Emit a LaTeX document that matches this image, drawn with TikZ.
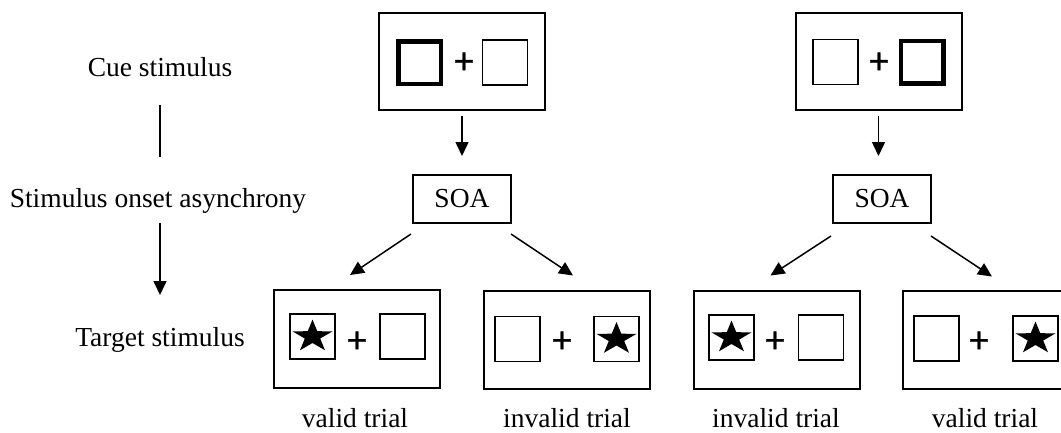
\documentclass[tikz,border=0pt]{standalone}
\usepackage{fontspec}
\setmainfont{Liberation Serif}
\newfontfamily\plusfont[FakeBold=0.8]{Liberation Sans}
\usetikzlibrary{arrows.meta}

\tikzset{
  every node/.style={outer sep=0pt},
  frame/.style={draw, line width=2pt, inner sep=0pt, minimum width=166, minimum height=97},
  soabox/.style={draw, line width=2pt, inner sep=0pt, minimum width=98, minimum height=48,
    font=\fontsize{27.5}{32}\selectfont},
  plainsq/.style={draw, line width=1.8pt, inner sep=0pt, minimum size=45},
  cuesq/.style={draw, line width=4.5pt, inner sep=0pt, minimum size=42.5},
  plusmark/.style={inner sep=0pt, font=\plusfont\fontsize{36}{36}\selectfont},
  sidelabel/.style={anchor=base, inner sep=0pt, text height=19pt, text depth=0pt,
    font=\fontsize{27.5}{32}\selectfont},
  triallabel/.style={anchor=base, inner sep=0pt, font=\fontsize{27.5}{32}\selectfont},
  flow/.style={line width=1.5pt, -{Triangle[length=14pt,width=13pt]}},
  pics/starmark/.style={code={
    \fill[xscale=1.25, yscale=-1] (90:17) -- (126:6.5) -- (162:17) -- (198:6.5) -- (234:17)
      -- (270:6.5) -- (306:17) -- (342:6.5) -- (18:17) -- (54:6.5) -- cycle;
  }}
}

\begin{document}
\begin{tikzpicture}[x=1pt, y=-1pt]
\useasboundingbox (0,0) rectangle (1061,432);

% stage names on the left
\node[sidelabel] (lblCue) at (160,76) {Cue stimulus};
\node[sidelabel] (lblSoa) at (158,207) {Stimulus onset asynchrony};
\node[sidelabel] (lblTgt) at (160,346) {Target stimulus};
\draw[line width=1.5pt, shorten <=29pt, shorten >=31pt] (lblCue.south) -- (lblCue.south |- lblSoa.north);
\draw[flow, shorten <=16pt, shorten >=32pt] (lblCue.south |- lblSoa.south) -- (lblCue.south |- lblTgt.north);

% cue displays
\node[frame] (cueL) at (462,61.5) {};
\node[cuesq] (cueLa) at (419.5,62.5) {};
\node[plusmark] (cueLp) at (464,63) {+};
\node[plainsq] (cueLb) at (505,62.5) {};

\node[frame] (cueR) at (878.5,61.5) {};
\node[plainsq] (cueRa) at (835.5,62) {};
\node[plusmark] (cueRp) at (879,63) {+};
\node[cuesq] (cueRb) at (922,62) {};

% SOA boxes
\node[soabox] (soaL) at (462,199) {SOA};
\node[soabox] (soaR) at (882,199) {SOA};
\draw[flow, shorten <=6pt, shorten >=19pt] (cueL.south) -- (cueL.south |- soaL.north);
\draw[flow, shorten <=6pt, shorten >=19pt] (cueR.south) -- (cueR.south |- soaR.north);

% target displays
\node[frame, minimum height=98] (tA) at (357,339) {};
\node[plainsq] (tAa) at (312.5,336.5) {};
\pic at (tAa) {starmark};
\node[plusmark] (tAp) at (357,342) {+};
\node[plainsq] (tAb) at (402.5,336.5) {};

\node[frame, minimum height=98] (tB) at (567,339.5) {};
\node[plainsq] (tBa) at (517.5,339) {};
\node[plusmark] (tBp) at (562,342) {+};
\node[plainsq] (tBb) at (616.5,339) {};
\pic at (tBb) {starmark};

\node[frame, minimum height=98] (tC) at (776.5,339.5) {};
\node[plainsq] (tCa) at (731.5,337.5) {};
\pic at (tCa) {starmark};
\node[plusmark] (tCp) at (775,342) {+};
\node[plainsq] (tCb) at (821,337.5) {};

\node[frame, minimum height=98] (tD) at (986,339.5) {};
\node[plainsq] (tDa) at (936.5,338.5) {};
\node[plusmark] (tDp) at (979,342) {+};
\node[plainsq] (tDb) at (1035.5,338.5) {};
\pic at (tDb) {starmark};

% branches from SOA to the targets
\draw[flow] ([shift={(-2,11)}]soaL.south west) -- ([shift={(-7,-15)}]tA.north);
\draw[flow] ([shift={(0,11)}]soaL.south east) -- ([shift={(6,-15)}]tB.north);
\draw[flow] ([shift={(-2,13)}]soaR.south west) -- ([shift={(-6,-15)}]tC.north);
\draw[flow] ([shift={(0,13)}]soaR.south east) -- ([shift={(6,-14)}]tD.north);

% trial labels
\node[triallabel] (lA) at (355,427) {valid trial};
\node[triallabel] (lB) at (567,427) {invalid trial};
\node[triallabel] (lC) at (776,427) {invalid trial};
\node[triallabel] (lD) at (985,427) {valid trial};
\end{tikzpicture}
\end{document}
